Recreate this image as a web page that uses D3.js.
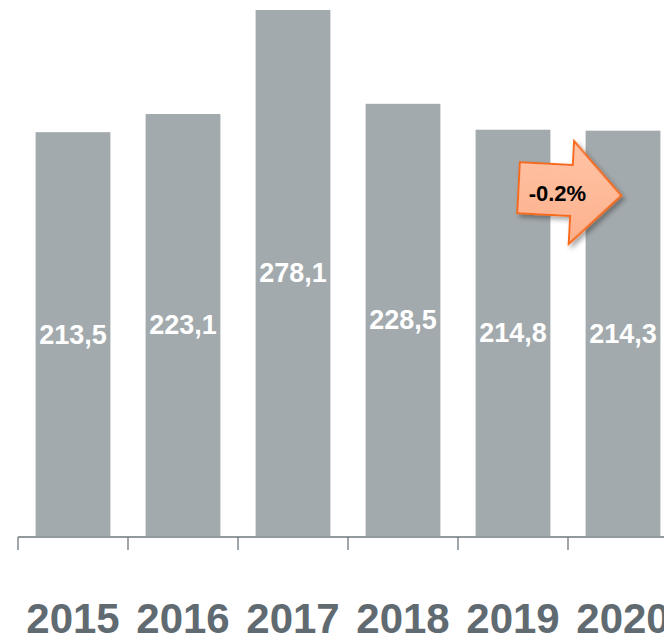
<!DOCTYPE html>
<html>
<head>
<meta charset="utf-8">
<script src="https://cdn.jsdelivr.net/npm/d3@7"></script>
<style>
  html, body { margin: 0; padding: 0; background: #fff; }
  svg { display: block; font-family: "Liberation Sans", Arial, sans-serif; }
</style>
</head>
<body>
<div id="chart"></div>
<script>
const years = ["2015", "2016", "2017", "2018", "2019", "2020"];
const values = [213.5, 223.1, 278.1, 228.5, 214.8, 214.3];
const valueLabels = ["213,5", "223,1", "278,1", "228,5", "214,8", "214,3"];
const changeLabel = "-0.2%";

const width = 664, height = 643;
const margin = { top: 10, left: 18, baseline: 536 };

const svg = d3.select("#chart").append("svg")
    .attr("width", width)
    .attr("height", height);

const defs = svg.append("defs");
const grad = defs.append("linearGradient")
    .attr("id", "arrowFill")
    .attr("x1", 0).attr("y1", 0).attr("x2", 0).attr("y2", 1);
grad.append("stop").attr("offset", "0%").attr("stop-color", "#ffc4a6");
grad.append("stop").attr("offset", "100%").attr("stop-color", "#fdb08c");
const shadow = defs.append("filter").attr("id", "shadow")
    .attr("x", "-20%").attr("y", "-20%").attr("width", "150%").attr("height", "150%");
shadow.append("feDropShadow")
    .attr("dx", 3).attr("dy", 3).attr("stdDeviation", 2.5)
    .attr("flood-color", "#000").attr("flood-opacity", 0.35);

// six bands of 110px starting at x=18, the last runs off the right edge
const x = d3.scaleBand()
    .domain(years)
    .range([margin.left, margin.left + 110 * years.length])
    .paddingInner(0.32)
    .paddingOuter(0.16);

const y = d3.scaleLinear()
    .domain([0, d3.max(values)])
    .range([margin.baseline, margin.top]);

const data = years.map((yr, i) => ({ year: yr, value: values[i], label: valueLabels[i] }));

svg.selectAll(".bar")
    .data(data)
    .join("rect")
    .attr("class", "bar")
    .attr("x", d => x(d.year))
    .attr("y", d => y(d.value))
    .attr("width", x.bandwidth())
    .attr("height", d => y(0) - y(d.value))
    .attr("fill", "#a3aaad");

svg.selectAll(".bar-label")
    .data(data)
    .join("text")
    .attr("class", "bar-label")
    .attr("x", d => x(d.year) + x.bandwidth() / 2)
    .attr("y", d => (y(d.value) + y(0)) / 2)
    .attr("dy", "0.35em")
    .attr("text-anchor", "middle")
    .attr("fill", "#fff")
    .style("font-weight", "bold")
    .style("font-size", "27px")
    .text(d => d.label);

// axis: tick marks at band boundaries
const axisY = margin.baseline + 1;
const axisG = svg.append("g").attr("stroke", "#6e777c").attr("stroke-width", 1.3);
axisG.append("line")
    .attr("x1", margin.left).attr("x2", width)
    .attr("y1", axisY).attr("y2", axisY);
axisG.selectAll(".tick")
    .data(years)
    .join("line")
    .attr("class", "tick")
    .attr("x1", d => x(d) - x.step() * x.paddingOuter())
    .attr("x2", d => x(d) - x.step() * x.paddingOuter())
    .attr("y1", axisY).attr("y2", axisY + 13);

svg.selectAll(".year-label")
    .data(years)
    .join("text")
    .attr("class", "year-label")
    .attr("x", d => x(d) + x.bandwidth() / 2)
    .attr("y", 633)
    .attr("text-anchor", "middle")
    .attr("fill", "#5f6a71")
    .style("font-weight", "bold")
    .style("font-size", "42px")
    .text(d => d);

// change arrow between 2019 and 2020
const ax = x("2019") + x.bandwidth() + 2;
const ay = 192;
const arrow = svg.append("g")
    .attr("transform", `translate(${ax},${ay}) rotate(3)`);
const arrowPts = [
    [-34, -28], [19, -28], [19, -52], [69, 0], [19, 51], [19, 23], [-34, 23]
];
arrow.append("path")
    .attr("d", d3.line()(arrowPts) + "Z")
    .attr("fill", "url(#arrowFill)")
    .attr("stroke", "#f66a1e")
    .attr("stroke-width", 2)
    .attr("stroke-linejoin", "miter")
    .attr("filter", "url(#shadow)");
svg.append("text")
    .attr("x", ax + 5)
    .attr("y", ay + 1)
    .attr("dy", "0.35em")
    .attr("text-anchor", "middle")
    .attr("fill", "#000")
    .style("font-weight", "bold")
    .style("font-size", "22px")
    .text(changeLabel);
</script>
</body>
</html>
